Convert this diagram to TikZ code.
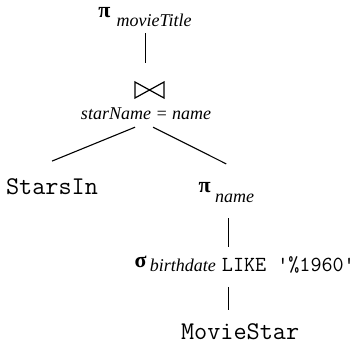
\documentclass[tikz,border=0pt]{standalone}
\usepackage{fontspec}
\setmainfont{Liberation Serif}
\tikzset{
  lbl/.style={inner sep=0pt, outer sep=0pt, anchor=base west},
  edge/.style={line width=1.1pt},
}
\newcommand{\opsym}[1]{{\fontsize{22}{22}\selectfont\bfseries #1}}
\newcommand{\subit}[1]{{\fontsize{18}{18}\selectfont\itshape #1}}
\newcommand{\relname}[1]{{\fontsize{25.5}{25.5}\selectfont\ttfamily #1}}
\begin{document}
\begin{tikzpicture}[x=1pt,y=-1pt]
\useasboundingbox (0,0) rectangle (357,345);
% top projection
\node[lbl] (pi1) at (98.5,17.5) {\opsym{π}\kern6pt\raisebox{-9pt}{\subit{movieTitle}}};
% join
\node[inner sep=0pt, outer sep=0pt, minimum width=29pt, minimum height=16pt] (join) at (149.5,90) {};
\draw[line width=1.2pt, line join=miter] (join.north west) -- (join.south east) -- (join.north east) -- (join.south west) -- cycle;
\node[lbl] (cond) at (81,120) {\subit{starName = name}};
% leaves and right branch
\node[lbl] (stars) at (6,195) {\relname{StarsIn}};
\node[lbl] (pi2) at (198.5,193) {\opsym{π}\kern4.5pt\raisebox{-10pt}{\subit{name}}};
\node[lbl] (sigma) at (134.5,268) {\opsym{σ}\kern3.5pt\raisebox{-4pt}{\subit{birthdate}\kern6pt{\fontsize{21.5}{21.5}\selectfont\ttfamily LIKE '\%1960'}}};
\node[lbl] (movie) at (181,340) {\relname{MovieStar}};
% connectors
\draw[edge] ([yshift=-6.5pt]pi1.south -| 145.5,0) -- ([yshift=19pt]join.north -| 145.5,0);
\draw[edge] ([xshift=-11pt,yshift=-7pt]cond.south) -- ([yshift=18pt]stars.north);
\draw[edge] ([xshift=7pt,yshift=-7pt]cond.south) -- ([yshift=19pt]pi2.north);
\draw[edge] ([yshift=-15pt]pi2.south -| 228.5,0) -- ([yshift=10pt]sigma.north -| 228.5,0);
\draw[edge] ([yshift=-13pt]sigma.south -| 228.5,0) -- ([yshift=14.5pt]movie.north -| 228.5,0);
\end{tikzpicture}
\end{document}
